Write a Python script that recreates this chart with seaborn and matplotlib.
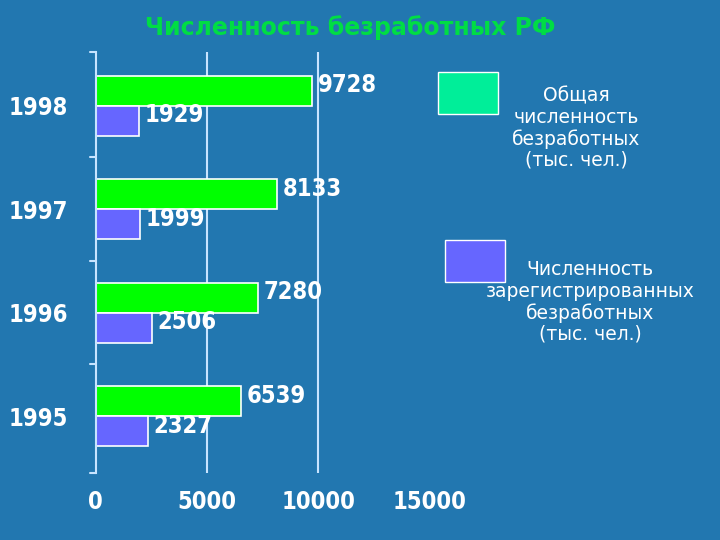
import matplotlib
matplotlib.use("Agg")
import matplotlib.pyplot as plt
import seaborn as sns
import pandas as pd
from matplotlib.patches import Rectangle

years = ["1998", "1997", "1996", "1995"]
total = [9728, 8133, 7280, 6539]
registered = [1929, 1999, 2506, 2327]
series = ["total", "registered"]
xticks = [0, 5000, 10000, 15000]

bg = "#2277b0"
df = pd.DataFrame({"year": years * 2, "value": total + registered,
                   "series": [series[0]] * 4 + [series[1]] * 4})

sns.set_style("white")
plt.rcParams['font.family'] = ['DejaVu Sans']
plt.rcParams['font.stretch'] = 'condensed'
fig = plt.figure(figsize=(7.2, 5.4), dpi=100, facecolor=bg)
ax = fig.add_axes([0.133, 0.124, 0.464, 0.78], facecolor=bg)
sns.barplot(data=df, y="year", x="value", hue="series", order=years, hue_order=series,
            palette=["#00ff00", "#6666ff"], saturation=1, orient="h", width=0.58, ax=ax,
            edgecolor="white", linewidth=1.2, legend=False)
ax.set_xlim(0, 15000)
ax.set_ylim(3.55, -0.52)
for x in [5000, 10000]:
    ax.axvline(x, color="#c8e4ff", lw=1.5, zorder=0)
for s in ["top", "right", "bottom"]:
    ax.spines[s].set_visible(False)
ax.spines["left"].set_color("#c8e4ff")
ax.spines["left"].set_linewidth(1.5)
ax.set_xticks(xticks)
ax.set_xticklabels([str(t) for t in xticks], fontsize=17, fontweight="bold", color="white")
ax.set_yticks([0, 1, 2, 3])
ax.set_yticklabels(years, fontsize=17, fontweight="bold", color="white")
ax.tick_params(axis="y", length=0, pad=20)
ax.tick_params(axis="x", length=0, pad=12)
ax.set_xlabel(""); ax.set_ylabel("")
for b in [-0.52, 0.5, 1.5, 2.5, 3.55]:
    ax.plot([-250, 0], [b, b], color="#c8e4ff", lw=1.5, clip_on=False)
for c in ax.containers:
    for bar in c:
        w = bar.get_width()
        ax.text(w + 250, bar.get_y() + bar.get_height() / 2 - 0.05, f"{int(w)}",
                color="white", fontsize=17, fontweight="bold", va="center")

fig.text(0.487, 0.948, "Численность безработных РФ", ha="center", va="center",
         color="#00dd44", fontsize=17, fontweight="bold", fontstretch="normal")
fig.patches.append(Rectangle((0.609, 0.789), 0.083, 0.078, transform=fig.transFigure,
                             facecolor="#00ee99", edgecolor="white", lw=1))
fig.patches.append(Rectangle((0.618, 0.478), 0.083, 0.078, transform=fig.transFigure,
                             facecolor="#6666ff", edgecolor="white", lw=1))
fig.text(0.8, 0.84, "Общая\nчисленность\nбезработных\n(тыс. чел.)", ha="center", va="top",
         color="white", fontsize=13.5, fontstretch="normal", linespacing=1.15)
fig.text(0.82, 0.518, "Численность\nзарегистрированных\nбезработных\n(тыс. чел.)", ha="center",
         va="top", color="white", fontsize=13.5, fontstretch="normal", linespacing=1.15)
fig.savefig("out.png", dpi=100, facecolor=bg)
